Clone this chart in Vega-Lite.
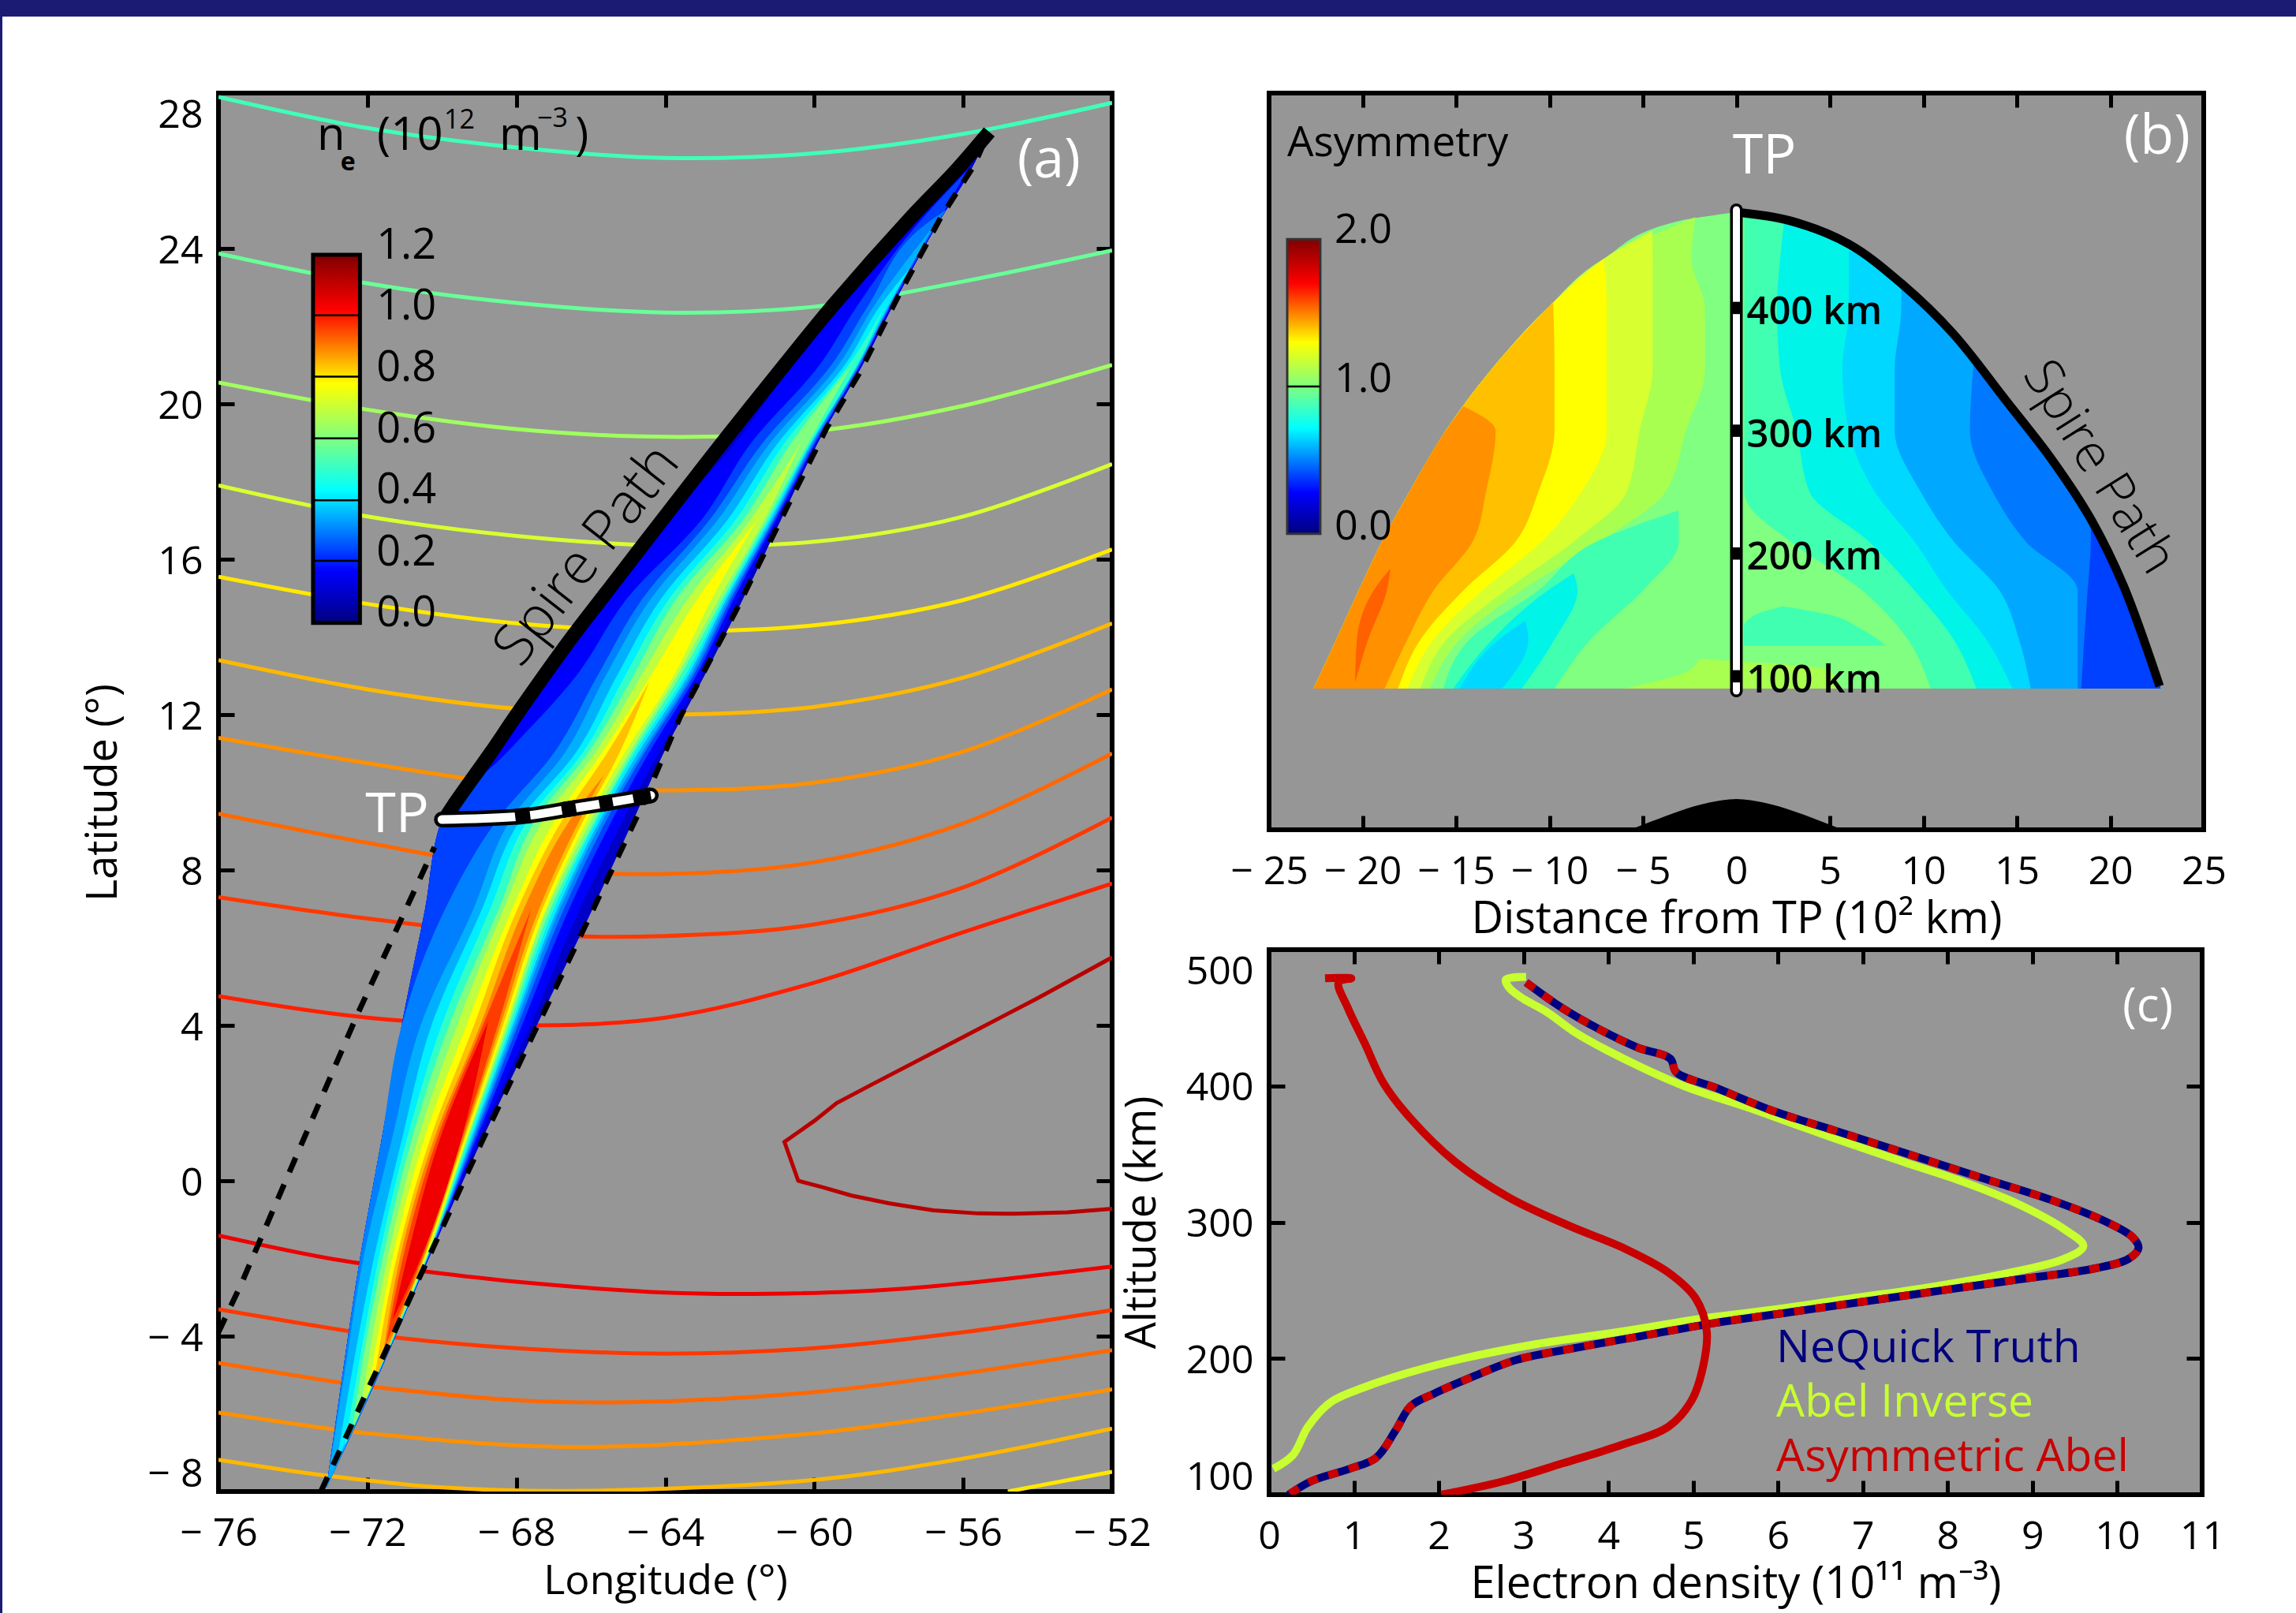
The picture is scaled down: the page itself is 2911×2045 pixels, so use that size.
{"$schema":"https://vega.github.io/schema/vega-lite/v6.json","padding":0,"background":"white",
"config":{"font":"Open Sans","view":{"stroke":null},"axis":{"grid":false,"domain":false,"labelFont":"Open Sans","titleFont":"Open Sans","labelFontSize":50,"titleFontSize":50,"titleFontWeight":"normal","labelColor":"black","titleColor":"black","tickColor":"black","tickWidth":5,"labelOverlap":false,"labelBound":false,"labelFlush":false,"zindex":1},"text":{"font":"Open Sans"}},
"datasets":{
"one":[{"x":0,"y":0}],
"contours":[
{"id":1,"n":"c48","x":-76,"y":27.9},{"id":1,"n":"c48","x":-72,"y":27.1},{"id":1,"n":"c48","x":-68,"y":26.6},{"id":1,"n":"c48","x":-64,"y":26.33},{"id":1,"n":"c48","x":-60,"y":26.45},{"id":1,"n":"c48","x":-56,"y":26.95},{"id":1,"n":"c48","x":-52,"y":27.75},
{"id":2,"n":"c52","x":-76,"y":23.87},{"id":2,"n":"c52","x":-72,"y":23.1},{"id":2,"n":"c52","x":-68,"y":22.6},{"id":2,"n":"c52","x":-64,"y":22.35},{"id":2,"n":"c52","x":-60,"y":22.5},{"id":2,"n":"c52","x":-56,"y":23.15},{"id":2,"n":"c52","x":-52,"y":23.95},
{"id":3,"n":"c58","x":-76,"y":20.55},{"id":3,"n":"c58","x":-72,"y":19.85},{"id":3,"n":"c58","x":-68,"y":19.35},{"id":3,"n":"c58","x":-64,"y":19.15},{"id":3,"n":"c58","x":-60,"y":19.3},{"id":3,"n":"c58","x":-56,"y":19.95},{"id":3,"n":"c58","x":-52,"y":21.0},
{"id":4,"n":"c66","x":-76,"y":17.9},{"id":4,"n":"c66","x":-72,"y":17.1},{"id":4,"n":"c66","x":-68,"y":16.6},{"id":4,"n":"c66","x":-64,"y":16.35},{"id":4,"n":"c66","x":-60,"y":16.45},{"id":4,"n":"c66","x":-56,"y":17.1},{"id":4,"n":"c66","x":-52,"y":18.45},
{"id":5,"n":"c72","x":-76,"y":15.55},{"id":5,"n":"c72","x":-72,"y":14.85},{"id":5,"n":"c72","x":-68,"y":14.35},{"id":5,"n":"c72","x":-64,"y":14.15},{"id":5,"n":"c72","x":-60,"y":14.3},{"id":5,"n":"c72","x":-56,"y":14.95},{"id":5,"n":"c72","x":-52,"y":16.25},
{"id":6,"n":"c78","x":-76,"y":13.4},{"id":6,"n":"c78","x":-72,"y":12.65},{"id":6,"n":"c78","x":-68,"y":12.15},{"id":6,"n":"c78","x":-64,"y":12.0},{"id":6,"n":"c78","x":-60,"y":12.2},{"id":6,"n":"c78","x":-56,"y":12.95},{"id":6,"n":"c78","x":-52,"y":14.35},
{"id":7,"n":"c83","x":-76,"y":11.4},{"id":7,"n":"c83","x":-72,"y":10.75},{"id":7,"n":"c83","x":-68,"y":10.2},{"id":7,"n":"c83","x":-64,"y":10.05},{"id":7,"n":"c83","x":-60,"y":10.25},{"id":7,"n":"c83","x":-56,"y":11.05},{"id":7,"n":"c83","x":-52,"y":12.65},
{"id":8,"n":"c88","x":-76,"y":9.45},{"id":8,"n":"c88","x":-72,"y":8.7},{"id":8,"n":"c88","x":-68,"y":8.05},{"id":8,"n":"c88","x":-64,"y":7.9},{"id":8,"n":"c88","x":-60,"y":8.2},{"id":8,"n":"c88","x":-56,"y":9.2},{"id":8,"n":"c88","x":-52,"y":11.0},
{"id":9,"n":"c93","x":-76,"y":7.3},{"id":9,"n":"c93","x":-72,"y":6.75},{"id":9,"n":"c93","x":-68,"y":6.35},{"id":9,"n":"c93","x":-64,"y":6.3},{"id":9,"n":"c93","x":-60,"y":6.6},{"id":9,"n":"c93","x":-56,"y":7.55},{"id":9,"n":"c93","x":-52,"y":9.35},
{"id":10,"n":"c98","x":-76,"y":4.75},{"id":10,"n":"c98","x":-72,"y":4.2},{"id":10,"n":"c98","x":-68,"y":4.0},{"id":10,"n":"c98","x":-64,"y":4.2},{"id":10,"n":"c98","x":-60,"y":5.1},{"id":10,"n":"c98","x":-56,"y":6.4},{"id":10,"n":"c98","x":-52,"y":7.65},
{"id":12,"n":"c102","x":-76,"y":-1.41},{"id":12,"n":"c102","x":-72.9,"y":-2.02},{"id":12,"n":"c102","x":-70.5,"y":-2.33},{"id":12,"n":"c102","x":-68,"y":-2.6},{"id":12,"n":"c102","x":-64,"y":-2.88},{"id":12,"n":"c102","x":-61.2,"y":-2.91},{"id":12,"n":"c102","x":-57.5,"y":-2.77},{"id":12,"n":"c102","x":-52,"y":-2.21},
{"id":13,"n":"c93","x":-76,"y":-3.31},{"id":13,"n":"c93","x":-72.5,"y":-3.87},{"id":13,"n":"c93","x":-71.2,"y":-4.04},{"id":13,"n":"c93","x":-68,"y":-4.31},{"id":13,"n":"c93","x":-64,"y":-4.45},{"id":13,"n":"c93","x":-60,"y":-4.31},{"id":13,"n":"c93","x":-56,"y":-3.9},{"id":13,"n":"c93","x":-52,"y":-3.33},
{"id":14,"n":"c88","x":-76,"y":-4.69},{"id":14,"n":"c88","x":-72.7,"y":-5.2},{"id":14,"n":"c88","x":-71.9,"y":-5.3},{"id":14,"n":"c88","x":-68,"y":-5.65},{"id":14,"n":"c88","x":-65,"y":-5.7},{"id":14,"n":"c88","x":-60,"y":-5.44},{"id":14,"n":"c88","x":-56,"y":-4.96},{"id":14,"n":"c88","x":-52,"y":-4.36},
{"id":15,"n":"c83","x":-76,"y":-5.97},{"id":15,"n":"c83","x":-72.9,"y":-6.4},{"id":15,"n":"c83","x":-72,"y":-6.5},{"id":15,"n":"c83","x":-68,"y":-6.81},{"id":15,"n":"c83","x":-65.3,"y":-6.84},{"id":15,"n":"c83","x":-60,"y":-6.5},{"id":15,"n":"c83","x":-56,"y":-5.99},{"id":15,"n":"c83","x":-52,"y":-5.37},
{"id":16,"n":"c78","x":-76,"y":-7.18},{"id":16,"n":"c78","x":-73.1,"y":-7.59},{"id":16,"n":"c78","x":-69.9,"y":-7.9},{"id":16,"n":"c78","x":-66.2,"y":-7.98},{"id":16,"n":"c78","x":-60,"y":-7.7},{"id":16,"n":"c78","x":-56,"y":-7.15},{"id":16,"n":"c78","x":-52,"y":-6.38},
{"id":17,"n":"c72","x":-54.8,"y":-8.0},{"id":17,"n":"c72","x":-52,"y":-7.49}],
"cshape":[{"x":-52,"y":5.75},{"x":-54,"y":4.7},{"x":-56,"y":3.7},{"x":-58.45,"y":2.48},{"x":-59.4,"y":2.0},{"x":-60,"y":1.54},{"x":-60.8,"y":1.0},{"x":-60.43,"y":0},{"x":-59.8,"y":-0.16},{"x":-59,"y":-0.38},{"x":-58,"y":-0.58},{"x":-56.8,"y":-0.76},{"x":-55.6,"y":-0.84},{"x":-54.6,"y":-0.85},{"x":-53.2,"y":-0.81},{"x":-52,"y":-0.72}],
"band":[
{"n":"0.05","y":27,"x":-55.3,"x2":-55.3},{"n":"0.05","y":26,"x":-56.2,"x2":-55.8},{"n":"0.05","y":24.6,"x":-57.55,"x2":-56.7},{"n":"0.05","y":22.5,"x":-59.5,"x2":-57.9},{"n":"0.05","y":21,"x":-60.8,"x2":-58.7},{"n":"0.05","y":19,"x":-62.45,"x2":-59.9},{"n":"0.05","y":17,"x":-64.1,"x2":-60.9},{"n":"0.05","y":15,"x":-65.7,"x2":-61.9},{"n":"0.05","y":13,"x":-67.2,"x2":-62.95},{"n":"0.05","y":11,"x":-68.68,"x2":-64.05},{"n":"0.05","y":9.3,"x":-70,"x2":-64.85},{"n":"0.05","y":7,"x":-70.45,"x2":-65.95},{"n":"0.05","y":4,"x":-71.08,"x2":-67.45},{"n":"0.05","y":1,"x":-71.63,"x2":-68.95},{"n":"0.05","y":-2,"x":-72.2,"x2":-70.35},{"n":"0.05","y":-5,"x":-72.67,"x2":-71.7},{"n":"0.05","y":-7.9,"x":-73.1,"x2":-73.1},
{"n":"0.10","y":27,"x":-55.3,"x2":-55.3},{"n":"0.10","y":26,"x":-56.16,"x2":-55.84},{"n":"0.10","y":24.6,"x":-57.5,"x2":-56.72},{"n":"0.10","y":22.5,"x":-59.34,"x2":-57.93},{"n":"0.10","y":21,"x":-60.59,"x2":-58.74},{"n":"0.10","y":19,"x":-62.12,"x2":-59.93},{"n":"0.10","y":17,"x":-63.94,"x2":-60.98},{"n":"0.10","y":15,"x":-65.59,"x2":-62.03},{"n":"0.10","y":13,"x":-67.07,"x2":-63.04},{"n":"0.10","y":11,"x":-68.58,"x2":-64.19},{"n":"0.10","y":9.3,"x":-70,"x2":-65.13},{"n":"0.10","y":7,"x":-70.45,"x2":-66.29},{"n":"0.10","y":4,"x":-71.08,"x2":-67.63},{"n":"0.10","y":1,"x":-71.63,"x2":-69.04},{"n":"0.10","y":-2,"x":-72.2,"x2":-70.36},{"n":"0.10","y":-5,"x":-72.67,"x2":-71.7},{"n":"0.10","y":-7.9,"x":-73.1,"x2":-73.1},
{"n":"0.15","y":26,"x":-55.9,"x2":-55.9},{"n":"0.15","y":24.6,"x":-57.25,"x2":-56.72},{"n":"0.15","y":22.5,"x":-58.86,"x2":-57.96},{"n":"0.15","y":21,"x":-59.86,"x2":-58.76},{"n":"0.15","y":19,"x":-61.69,"x2":-59.96},{"n":"0.15","y":17,"x":-63.04,"x2":-61.04},{"n":"0.15","y":15,"x":-65.02,"x2":-62.15},{"n":"0.15","y":13,"x":-66.39,"x2":-63.17},{"n":"0.15","y":11,"x":-68.28,"x2":-64.45},{"n":"0.15","y":9.3,"x":-70,"x2":-65.42},{"n":"0.15","y":7,"x":-70.45,"x2":-66.58},{"n":"0.15","y":4,"x":-71.08,"x2":-67.85},{"n":"0.15","y":1,"x":-71.63,"x2":-69.11},{"n":"0.15","y":-2,"x":-72.2,"x2":-70.37},{"n":"0.15","y":-5,"x":-72.67,"x2":-71.7},{"n":"0.15","y":-7.9,"x":-73.1,"x2":-73.1},
{"n":"0.20","y":25,"x":-56.45,"x2":-56.45},{"n":"0.20","y":24.6,"x":-57.04,"x2":-56.73},{"n":"0.20","y":22.5,"x":-58.57,"x2":-57.98},{"n":"0.20","y":21,"x":-59.54,"x2":-58.78},{"n":"0.20","y":19,"x":-61.38,"x2":-60.0},{"n":"0.20","y":17,"x":-62.82,"x2":-61.09},{"n":"0.20","y":15,"x":-64.6,"x2":-62.22},{"n":"0.20","y":13,"x":-65.82,"x2":-63.25},{"n":"0.20","y":11,"x":-67.0,"x2":-64.57},{"n":"0.20","y":9.3,"x":-68.51,"x2":-65.57},{"n":"0.20","y":7,"x":-69.91,"x2":-66.72},{"n":"0.20","y":4,"x":-71.08,"x2":-67.96},{"n":"0.20","y":1,"x":-71.63,"x2":-69.16},{"n":"0.20","y":-2,"x":-72.2,"x2":-70.38},{"n":"0.20","y":-5,"x":-72.67,"x2":-71.71},{"n":"0.20","y":-7.9,"x":-73.1,"x2":-73.1},
{"n":"0.30","y":24.6,"x":-56.78,"x2":-56.78},{"n":"0.30","y":22.5,"x":-58.41,"x2":-58.0},{"n":"0.30","y":21,"x":-59.35,"x2":-58.81},{"n":"0.30","y":19,"x":-61.18,"x2":-60.04},{"n":"0.30","y":17,"x":-62.6,"x2":-61.12},{"n":"0.30","y":15,"x":-64.37,"x2":-62.28},{"n":"0.30","y":13,"x":-65.6,"x2":-63.32},{"n":"0.30","y":11,"x":-66.71,"x2":-64.64},{"n":"0.30","y":9.3,"x":-68.15,"x2":-65.67},{"n":"0.30","y":7,"x":-69.15,"x2":-66.83},{"n":"0.30","y":4,"x":-70.57,"x2":-68.03},{"n":"0.30","y":1,"x":-71.36,"x2":-69.2},{"n":"0.30","y":-2,"x":-72.11,"x2":-70.39},{"n":"0.30","y":-5,"x":-72.62,"x2":-71.72},{"n":"0.30","y":-7.9,"x":-73.1,"x2":-73.1},
{"n":"0.40","y":23.5,"x":-57.43,"x2":-57.43},{"n":"0.40","y":22.5,"x":-58.25,"x2":-58.03},{"n":"0.40","y":21,"x":-59.18,"x2":-58.83},{"n":"0.40","y":19,"x":-60.97,"x2":-60.07},{"n":"0.40","y":17,"x":-62.34,"x2":-61.17},{"n":"0.40","y":15,"x":-64.1,"x2":-62.34},{"n":"0.40","y":13,"x":-65.3,"x2":-63.39},{"n":"0.40","y":11,"x":-66.42,"x2":-64.74},{"n":"0.40","y":9.3,"x":-67.89,"x2":-65.75},{"n":"0.40","y":7,"x":-68.92,"x2":-66.9},{"n":"0.40","y":4,"x":-70.28,"x2":-68.09},{"n":"0.40","y":1,"x":-71.09,"x2":-69.24},{"n":"0.40","y":-2,"x":-71.83,"x2":-70.4},{"n":"0.40","y":-5,"x":-72.43,"x2":-71.73},{"n":"0.40","y":-7.2,"x":-72.82,"x2":-72.82},
{"n":"0.45","y":22.5,"x":-58.11,"x2":-58.11},{"n":"0.45","y":21,"x":-59.08,"x2":-58.85},{"n":"0.45","y":19,"x":-60.79,"x2":-60.1},{"n":"0.45","y":17,"x":-62.12,"x2":-61.22},{"n":"0.45","y":15,"x":-63.88,"x2":-62.39},{"n":"0.45","y":13,"x":-65.08,"x2":-63.47},{"n":"0.45","y":11,"x":-66.23,"x2":-64.83},{"n":"0.45","y":9.3,"x":-67.68,"x2":-65.83},{"n":"0.45","y":7,"x":-68.7,"x2":-66.99},{"n":"0.45","y":4,"x":-70.01,"x2":-68.14},{"n":"0.45","y":1,"x":-70.96,"x2":-69.28},{"n":"0.45","y":-2,"x":-71.7,"x2":-70.41},{"n":"0.45","y":-5,"x":-72.28,"x2":-71.74},{"n":"0.45","y":-6.8,"x":-72.6,"x2":-72.6},
{"n":"0.50","y":21,"x":-58.99,"x2":-58.99},{"n":"0.50","y":19,"x":-60.61,"x2":-60.15},{"n":"0.50","y":17,"x":-61.92,"x2":-61.28},{"n":"0.50","y":15,"x":-63.69,"x2":-62.45},{"n":"0.50","y":13,"x":-64.86,"x2":-63.6},{"n":"0.50","y":11,"x":-66.09,"x2":-64.9},{"n":"0.50","y":9.3,"x":-67.48,"x2":-65.88},{"n":"0.50","y":7,"x":-68.47,"x2":-67.08},{"n":"0.50","y":4,"x":-69.81,"x2":-68.2},{"n":"0.50","y":1,"x":-70.83,"x2":-69.33},{"n":"0.50","y":-2,"x":-71.59,"x2":-70.41},{"n":"0.50","y":-5,"x":-72.19,"x2":-71.76},{"n":"0.50","y":-6.4,"x":-72.4,"x2":-72.4},
{"n":"0.60","y":19,"x":-60.36,"x2":-60.36},{"n":"0.60","y":17,"x":-61.73,"x2":-61.35},{"n":"0.60","y":15,"x":-63.38,"x2":-62.55},{"n":"0.60","y":13,"x":-64.65,"x2":-63.69},{"n":"0.60","y":11,"x":-65.9,"x2":-64.98},{"n":"0.60","y":9.3,"x":-67.27,"x2":-65.98},{"n":"0.60","y":7,"x":-68.34,"x2":-67.17},{"n":"0.60","y":4,"x":-69.59,"x2":-68.25},{"n":"0.60","y":1,"x":-70.67,"x2":-69.35},{"n":"0.60","y":-2,"x":-71.46,"x2":-70.43},{"n":"0.60","y":-5,"x":-72.04,"x2":-71.78},{"n":"0.60","y":-6,"x":-72.2,"x2":-72.2},
{"n":"0.70","y":17,"x":-61.54,"x2":-61.54},{"n":"0.70","y":15,"x":-63.12,"x2":-62.74},{"n":"0.70","y":13,"x":-64.39,"x2":-63.78},{"n":"0.70","y":11,"x":-65.71,"x2":-65.1},{"n":"0.70","y":9.3,"x":-66.96,"x2":-66.09},{"n":"0.70","y":7,"x":-68.11,"x2":-67.21},{"n":"0.70","y":4,"x":-69.34,"x2":-68.3},{"n":"0.70","y":1,"x":-70.5,"x2":-69.38},{"n":"0.70","y":-2,"x":-71.33,"x2":-70.45},{"n":"0.70","y":-5,"x":-71.91,"x2":-71.8},{"n":"0.70","y":-5.6,"x":-72.03,"x2":-72.03},
{"n":"0.75","y":12.85,"x":-64.43,"x2":-64.43},{"n":"0.75","y":11,"x":-65.57,"x2":-65.24},{"n":"0.75","y":9.3,"x":-66.76,"x2":-66.19},{"n":"0.75","y":7,"x":-67.97,"x2":-67.3},{"n":"0.75","y":4,"x":-69.14,"x2":-68.36},{"n":"0.75","y":1,"x":-70.34,"x2":-69.42},{"n":"0.75","y":-2,"x":-71.22,"x2":-70.48},{"n":"0.75","y":-5.2,"x":-71.83,"x2":-71.83},
{"n":"0.85","y":10.45,"x":-65.64,"x2":-65.64},{"n":"0.85","y":9.3,"x":-66.55,"x2":-66.29},{"n":"0.85","y":7,"x":-67.8,"x2":-67.39},{"n":"0.85","y":4,"x":-68.97,"x2":-68.43},{"n":"0.85","y":1,"x":-70.24,"x2":-69.45},{"n":"0.85","y":-2,"x":-71.13,"x2":-70.5},{"n":"0.85","y":-4.6,"x":-71.6,"x2":-71.6},
{"n":"0.95","y":7,"x":-67.6,"x2":-67.6},{"n":"0.95","y":4,"x":-68.9,"x2":-68.5},{"n":"0.95","y":1,"x":-70.16,"x2":-69.49},{"n":"0.95","y":-2,"x":-71.05,"x2":-70.54},{"n":"0.95","y":-4.2,"x":-71.5,"x2":-71.5},
{"n":"1.05","y":4.1,"x":-68.76,"x2":-68.76},{"n":"1.05","y":1,"x":-70.08,"x2":-69.5},{"n":"1.05","y":-2,"x":-70.94,"x2":-70.57},{"n":"1.05","y":-3.6,"x":-71.33,"x2":-71.33}],
"dashL":[{"x":-70.2,"y":8.59},{"x":-72.27,"y":4.28},{"x":-75.4,"y":-2.68},{"x":-76,"y":-3.9}],
"dashR":[{"x":-55.3,"y":27.03},{"x":-55.7,"y":26.15},{"x":-56.6,"y":24.8},{"x":-57.75,"y":22.76},{"x":-58.8,"y":20.77},{"x":-59.66,"y":19.39},{"x":-60.72,"y":17.36},{"x":-62.12,"y":14.64},{"x":-63.6,"y":11.94},{"x":-64.6,"y":9.7},{"x":-66.1,"y":6.66},{"x":-68.92,"y":1.02},{"x":-70.77,"y":-2.84},{"x":-73.25,"y":-8}],
"spire":[{"x":-70,"y":9.2},{"x":-69.69,"y":9.66},{"x":-68.7,"y":11},{"x":-67.99,"y":12},{"x":-66.57,"y":13.91},{"x":-65.7,"y":15},{"x":-63.75,"y":17.42},{"x":-62.31,"y":19.19},{"x":-60.8,"y":21},{"x":-59.47,"y":22.56},{"x":-57.4,"y":24.8},{"x":-56.2,"y":26},{"x":-55.3,"y":27}],
"tpbar":[{"x":-70,"y":9.3},{"x":-68,"y":9.37},{"x":-66.4,"y":9.6},{"x":-64.86,"y":9.84},{"x":-64.39,"y":9.92}],
"tpdash":[{"g":1,"x":-68.03,"y":9.37},{"g":1,"x":-67.63,"y":9.42},{"g":2,"x":-66.78,"y":9.54},{"g":2,"x":-66.4,"y":9.6},{"g":3,"x":-65.77,"y":9.69},{"g":3,"x":-65.41,"y":9.75},{"g":4,"x":-64.86,"y":9.84},{"g":4,"x":-64.39,"y":9.92}],
"cbA":[{"x":-73.46,"x2":-72.2,"y":14.36,"y2":23.84}],
"cbAticks":[{"x":-73.46,"x2":-72.2,"y":22.28},{"x":-73.46,"x2":-72.2,"y":20.7},{"x":-73.46,"x2":-72.2,"y":19.11},{"x":-73.46,"x2":-72.2,"y":17.52},{"x":-73.46,"x2":-72.2,"y":15.96}],
"txtA":[{"x":-71.76,"y":24.07,"t":"1.2"},{"x":-71.76,"y":22.5,"t":"1.0"},{"x":-71.76,"y":20.92,"t":"0.8"},{"x":-71.76,"y":19.32,"t":"0.6"},{"x":-71.76,"y":17.77,"t":"0.4"},{"x":-71.76,"y":16.17,"t":"0.2"},{"x":-71.76,"y":14.6,"t":"0.0"}],
"txtAn":[{"x":-73.35,"y":26.89,"t":"n"},{"x":-71.74,"y":26.89,"t":"(10"},{"x":-68.46,"y":26.89,"t":"m"},{"x":-66.42,"y":26.89,"t":")"}],
"txtAsmall":[{"x":-69.94,"y":27.28,"t":"12"},{"x":-67.44,"y":27.32,"t":"−3"}],
"txtAe":[{"x":-72.72,"y":26.22,"t":"e"}],
"spireTxt":[{"x":-66.1,"y":16.1,"t":"Spire Path"}],
"tpA":[{"x":-71.2,"y":9.4,"t":"TP"},{"x":-53.7,"y":26.25,"t":"(a)"}],
"dome":[
{"g":1,"r":"1.00","y":90,"x":-22.62,"x2":22.7},{"g":1,"r":"1.00","y":130,"x":-21.4,"x2":21.75},{"g":1,"r":"1.00","y":170,"x":-20.2,"x2":20.8},{"g":1,"r":"1.00","y":210,"x":-18.95,"x2":19.55},{"g":1,"r":"1.00","y":250,"x":-17.5,"x2":17.9},{"g":1,"r":"1.00","y":300,"x":-15.55,"x2":15.7},{"g":1,"r":"1.00","y":350,"x":-13.1,"x2":13.1},{"g":1,"r":"1.00","y":400,"x":-10.1,"x2":10.15},{"g":1,"r":"1.00","y":440,"x":-7.1,"x2":7.1},{"g":1,"r":"1.00","y":470,"x":-3.3,"x2":3.05},{"g":1,"r":"1.00","y":478,"x":0,"x2":0},
{"g":2,"r":"1.08","y":90,"x":-22.62,"x2":-16.4},{"g":2,"r":"1.08","y":130,"x":-21.4,"x2":-14.8},{"g":2,"r":"1.08","y":170,"x":-20.2,"x2":-11.5},{"g":2,"r":"1.08","y":210,"x":-18.95,"x2":-7.3},{"g":2,"r":"1.08","y":250,"x":-17.5,"x2":-3.8},{"g":2,"r":"1.08","y":300,"x":-15.55,"x2":-2.7},{"g":2,"r":"1.08","y":350,"x":-13.1,"x2":-1.68},{"g":2,"r":"1.08","y":400,"x":-10.1,"x2":-1.68},{"g":2,"r":"1.08","y":440,"x":-7.1,"x2":-2.4},{"g":2,"r":"1.08","y":474,"x":-2.2,"x2":-2.2},
{"g":3,"r":"1.16","y":90,"x":-22.62,"x2":-16.9},{"g":3,"r":"1.16","y":130,"x":-21.4,"x2":-15.5},{"g":3,"r":"1.16","y":170,"x":-20.2,"x2":-12.35},{"g":3,"r":"1.16","y":210,"x":-18.95,"x2":-8.68},{"g":3,"r":"1.16","y":250,"x":-17.5,"x2":-5.88},{"g":3,"r":"1.16","y":300,"x":-15.55,"x2":-5.18},{"g":3,"r":"1.16","y":350,"x":-13.1,"x2":-4.48},{"g":3,"r":"1.16","y":400,"x":-10.1,"x2":-4.48},{"g":3,"r":"1.16","y":440,"x":-7.1,"x2":-4.48},{"g":3,"r":"1.16","y":463,"x":-4.5,"x2":-4.5},
{"g":4,"r":"1.25","y":90,"x":-22.62,"x2":-17.6},{"g":4,"r":"1.25","y":130,"x":-21.4,"x2":-16.2},{"g":4,"r":"1.25","y":170,"x":-20.2,"x2":-13.6},{"g":4,"r":"1.25","y":210,"x":-18.95,"x2":-10.4},{"g":4,"r":"1.25","y":250,"x":-17.5,"x2":-8.3},{"g":4,"r":"1.25","y":300,"x":-15.55,"x2":-6.93},{"g":4,"r":"1.25","y":350,"x":-13.1,"x2":-6.93},{"g":4,"r":"1.25","y":400,"x":-10.1,"x2":-6.93},{"g":4,"r":"1.25","y":440,"x":-7.1,"x2":-7.1},
{"g":5,"r":"1.35","y":90,"x":-22.62,"x2":-18.1},{"g":5,"r":"1.35","y":130,"x":-21.4,"x2":-16.9},{"g":5,"r":"1.35","y":170,"x":-20.2,"x2":-14.6},{"g":5,"r":"1.35","y":210,"x":-18.95,"x2":-11.8},{"g":5,"r":"1.35","y":250,"x":-17.5,"x2":-10.6},{"g":5,"r":"1.35","y":300,"x":-15.55,"x2":-9.73},{"g":5,"r":"1.35","y":350,"x":-13.1,"x2":-9.73},{"g":5,"r":"1.35","y":405,"x":-9.8,"x2":-9.8},
{"g":6,"r":"1.45","y":90,"x":-22.62,"x2":-18.82},{"g":6,"r":"1.45","y":130,"x":-21.4,"x2":-17.6},{"g":6,"r":"1.45","y":170,"x":-20.2,"x2":-16.2},{"g":6,"r":"1.45","y":210,"x":-18.95,"x2":-14.1},{"g":6,"r":"1.45","y":250,"x":-17.5,"x2":-13.4},{"g":6,"r":"1.45","y":300,"x":-15.55,"x2":-12.88},{"g":6,"r":"1.45","y":320,"x":-14.6,"x2":-14.6},
{"g":7,"r":"1.55","y":95,"x":-20.4,"x2":-20.4},{"g":7,"r":"1.55","y":130,"x":-20.3,"x2":-19.7},{"g":7,"r":"1.55","y":170,"x":-19.4,"x2":-18.7},{"g":7,"r":"1.55","y":188,"x":-18.5,"x2":-18.5},
{"g":8,"r":"0.90","y":90,"x":-15.68,"x2":-9.73},{"g":8,"r":"0.90","y":130,"x":-14.28,"x2":-7.8},{"g":8,"r":"0.90","y":170,"x":-10.6,"x2":-5},{"g":8,"r":"0.90","y":210,"x":-7.45,"x2":-3.08},{"g":8,"r":"0.90","y":235,"x":-3.1,"x2":-3.1},
{"g":9,"r":"0.80","y":90,"x":-15.15,"x2":-11.48},{"g":9,"r":"0.80","y":130,"x":-13.05,"x2":-9.73},{"g":9,"r":"0.80","y":170,"x":-10.08,"x2":-8.5},{"g":9,"r":"0.80","y":184,"x":-8.7,"x2":-8.7},
{"g":10,"r":"0.70","y":90,"x":-14.8,"x2":-12.53},{"g":10,"r":"0.70","y":130,"x":-12.7,"x2":-11.13},{"g":10,"r":"0.70","y":145,"x":-11.3,"x2":-11.3},
{"g":11,"r":"1.08","y":90,"x":-6.05,"x2":5.5},{"g":11,"r":"1.08","y":105,"x":-2.5,"x2":5},{"g":11,"r":"1.08","y":114,"x":-2,"x2":-2},
{"g":12,"r":"0.90","y":90,"x":10.39,"x2":22.7},{"g":12,"r":"0.90","y":130,"x":9.17,"x2":21.75},{"g":12,"r":"0.90","y":170,"x":6.72,"x2":20.8},{"g":12,"r":"0.90","y":210,"x":2.87,"x2":19.55},{"g":12,"r":"0.90","y":241,"x":0.6,"x2":18.3},{"g":12,"r":"0.90","y":250,"x":0.42,"x2":17.9},{"g":12,"r":"0.90","y":300,"x":0.42,"x2":15.7},{"g":12,"r":"0.90","y":350,"x":0.42,"x2":13.1},{"g":12,"r":"0.90","y":400,"x":0.42,"x2":10.15},{"g":12,"r":"0.90","y":440,"x":0.42,"x2":7.1},{"g":12,"r":"0.90","y":470,"x":0.42,"x2":3.05},{"g":12,"r":"0.90","y":477,"x":0.42,"x2":0.5},
{"g":13,"r":"0.80","y":90,"x":12.84,"x2":22.7},{"g":13,"r":"0.80","y":130,"x":11.62,"x2":21.75},{"g":13,"r":"0.80","y":170,"x":9.52,"x2":20.8},{"g":13,"r":"0.80","y":210,"x":7.07,"x2":19.55},{"g":13,"r":"0.80","y":250,"x":3.92,"x2":17.9},{"g":13,"r":"0.80","y":300,"x":3.22,"x2":15.7},{"g":13,"r":"0.80","y":350,"x":2.34,"x2":13.1},{"g":13,"r":"0.80","y":400,"x":2.17,"x2":10.15},{"g":13,"r":"0.80","y":440,"x":2.34,"x2":7.1},{"g":13,"r":"0.80","y":470,"x":2.55,"x2":3.05},
{"g":14,"r":"0.70","y":90,"x":14.77,"x2":22.7},{"g":14,"r":"0.70","y":130,"x":13.37,"x2":21.75},{"g":14,"r":"0.70","y":170,"x":11.27,"x2":20.8},{"g":14,"r":"0.70","y":210,"x":9.52,"x2":19.55},{"g":14,"r":"0.70","y":250,"x":7.42,"x2":17.9},{"g":14,"r":"0.70","y":300,"x":6.02,"x2":15.7},{"g":14,"r":"0.70","y":350,"x":5.67,"x2":13.1},{"g":14,"r":"0.70","y":400,"x":6.02,"x2":10.15},{"g":14,"r":"0.70","y":446,"x":6.02,"x2":6.4},
{"g":15,"r":"0.60","y":90,"x":15.75,"x2":22.7},{"g":15,"r":"0.60","y":130,"x":15.12,"x2":21.75},{"g":15,"r":"0.60","y":170,"x":14.07,"x2":20.8},{"g":15,"r":"0.60","y":210,"x":11.62,"x2":19.55},{"g":15,"r":"0.60","y":250,"x":9.87,"x2":17.9},{"g":15,"r":"0.60","y":300,"x":8.47,"x2":15.7},{"g":15,"r":"0.60","y":350,"x":8.47,"x2":13.1},{"g":15,"r":"0.60","y":400,"x":8.82,"x2":10.15},{"g":15,"r":"0.60","y":417,"x":8.82,"x2":9.0},
{"g":16,"r":"0.50","y":90,"x":18.26,"x2":22.7},{"g":16,"r":"0.50","y":130,"x":18.26,"x2":21.75},{"g":16,"r":"0.50","y":170,"x":18.26,"x2":20.8},{"g":16,"r":"0.50","y":210,"x":15.47,"x2":19.55},{"g":16,"r":"0.50","y":250,"x":13.72,"x2":17.9},{"g":16,"r":"0.50","y":300,"x":12.49,"x2":15.7},{"g":16,"r":"0.50","y":355,"x":12.7,"x2":12.7},
{"g":17,"r":"0.40","y":90,"x":18.44,"x2":22.7},{"g":17,"r":"0.40","y":130,"x":18.61,"x2":21.75},{"g":17,"r":"0.40","y":170,"x":18.79,"x2":20.8},{"g":17,"r":"0.40","y":210,"x":18.96,"x2":19.55},{"g":17,"r":"0.40","y":227,"x":18.96,"x2":19},
{"g":18,"r":"0.90","y":125,"x":0.4,"x2":8},{"g":18,"r":"0.90","y":140,"x":0.4,"x2":6.5},{"g":18,"r":"0.90","y":150,"x":1,"x2":5},{"g":18,"r":"0.90","y":157,"x":2.5,"x2":2.5}],
"pathB":[{"x":0,"y":478},{"x":2.87,"y":471},{"x":6.02,"y":452},{"x":8.82,"y":420},{"x":11.6,"y":379},{"x":14.4,"y":325},{"x":16.9,"y":276},{"x":19,"y":227},{"x":20.7,"y":174},{"x":22.64,"y":92}],
"earth":[{"x":-5.7,"y":-25},{"x":-4.5,"y":-18},{"x":-3.1,"y":-10},{"x":-1.5,"y":-3},{"x":0,"y":0},{"x":1.5,"y":-3},{"x":3.1,"y":-10},{"x":4.5,"y":-18},{"x":5.7,"y":-25}],
"barB":[{"x":0,"y":480},{"x":0,"y":88}],
"barBmarks":[{"g":1,"x":0,"y":405},{"g":1,"x":0,"y":395},{"g":2,"x":0,"y":305},{"g":2,"x":0,"y":295},{"g":3,"x":0,"y":205},{"g":3,"x":0,"y":195},{"g":4,"x":0,"y":105},{"g":4,"x":0,"y":95}],
"cbB":[{"x":-24.03,"x2":-22.26,"y":216,"y2":456}],
"cbBtick":[{"x":-24.03,"x2":-22.26,"y":336}],
"txtB":[{"x":-21.5,"y":463,"t":"2.0"},{"x":-21.5,"y":342,"t":"1.0"},{"x":-21.5,"y":222,"t":"0.0"}],
"asymTxt":[{"x":-24.03,"y":534,"t":"Asymmetry"}],
"kmB":[{"x":0.55,"y":396.5,"t":"400 km"},{"x":0.55,"y":296.5,"t":"300 km"},{"x":0.55,"y":196.5,"t":"200 km"},{"x":0.55,"y":96.5,"t":"100 km"}],
"whiteB":[{"x":1.5,"y":523,"t":"TP"},{"x":22.5,"y":539,"t":"(b)"}],
"spireB":[{"x":19.4,"y":270,"t":"Spire Path"}],
"truth":[{"x":3.03,"y":476},{"x":3.46,"y":457},{"x":3.91,"y":441},{"x":4.35,"y":428},{"x":4.73,"y":420},{"x":4.8,"y":410},{"x":5.25,"y":399},{"x":5.97,"y":381},{"x":6.68,"y":367},{"x":7.58,"y":349},{"x":8.48,"y":331},{"x":9.28,"y":315},{"x":9.91,"y":299},{"x":10.18,"y":289},{"x":10.25,"y":281},{"x":10.13,"y":273},{"x":9.73,"y":266},{"x":8.84,"y":258},{"x":7.94,"y":250},{"x":7.04,"y":242},{"x":6.15,"y":234},{"x":5.25,"y":226},{"x":4.35,"y":216},{"x":3.64,"y":208},{"x":2.92,"y":199},{"x":2.38,"y":186},{"x":1.94,"y":174},{"x":1.67,"y":165},{"x":1.49,"y":147},{"x":1.26,"y":127},{"x":0.95,"y":119},{"x":0.5,"y":110},{"x":0.23,"y":100}],
"abel":[{"x":3.03,"y":480},{"x":2.79,"y":478},{"x":2.83,"y":472},{"x":2.97,"y":465},{"x":3.28,"y":454},{"x":3.64,"y":438},{"x":4.18,"y":420},{"x":4.89,"y":400},{"x":5.7,"y":383},{"x":6.6,"y":363},{"x":7.49,"y":344},{"x":8.21,"y":329},{"x":8.84,"y":313},{"x":9.37,"y":295},{"x":9.6,"y":282.5},{"x":9.37,"y":273},{"x":8.66,"y":262},{"x":7.76,"y":252},{"x":6.86,"y":244},{"x":5.97,"y":236},{"x":5.07,"y":229},{"x":4.18,"y":220},{"x":3.1,"y":210},{"x":2.29,"y":200},{"x":1.67,"y":190},{"x":1.13,"y":179},{"x":0.73,"y":168},{"x":0.46,"y":150},{"x":0.28,"y":129},{"x":0.05,"y":119}],
"asym":[{"x":0.66,"y":479},{"x":0.97,"y":479},{"x":0.82,"y":476},{"x":0.93,"y":457},{"x":1.13,"y":431},{"x":1.35,"y":402},{"x":1.67,"y":376},{"x":2.2,"y":344},{"x":2.83,"y":318},{"x":3.55,"y":297},{"x":4.18,"y":281},{"x":4.71,"y":263},{"x":5.03,"y":244},{"x":5.16,"y":220},{"x":5.12,"y":195},{"x":4.98,"y":169},{"x":4.71,"y":150},{"x":4.18,"y":137},{"x":3.46,"y":123},{"x":2.77,"y":110},{"x":2.03,"y":100}],
"legTruth":[{"x":5.98,"y":207,"t":"NeQuick Truth"}],
"legAbel":[{"x":5.98,"y":167,"t":"Abel Inverse"}],
"legAsym":[{"x":5.98,"y":127,"t":"Asymmetric Abel"}],
"cLabel":[{"x":10.36,"y":458,"t":"(c)"}]
},
"vconcat":[
{"width":2911,"height":21,"view":{"fill":"#1B1B73","stroke":null},"data":{"name":"one"},"mark":{"type":"rect","opacity":0},"encoding":{}},
{"hconcat":[
{"width":3,"height":2024,"view":{"fill":"#1B1B73","stroke":null},"data":{"name":"one"},"mark":{"type":"rect","opacity":0},"encoding":{}},
{"vconcat":[
{"width":1,"height":91,"data":{"name":"one"},"mark":{"type":"rect","opacity":0},"encoding":{}},
{"resolve":{"scale":{"color":"independent"}},"hconcat":[
{"width":1133,"height":1773,"view":{"fill":"#969696","stroke":"black","strokeWidth":6},
"resolve":{"axis":{"x":"independent","y":"independent"}},
"encoding":{"x":{"field":"x","type":"quantitative","scale":{"domain":[-76,-52],"nice":false,"zero":false},"axis":null},"y":{"field":"y","type":"quantitative","scale":{"domain":[-8,28],"nice":false,"zero":false},"axis":null}},
"layer":[
{"data":{"name":"contours"},"mark":{"type":"line","strokeWidth":5,"interpolate":"catmull-rom","clip":true},"encoding":{"detail":{"field":"id"},"color":{"field":"n","type":"nominal","legend":null,"scale":{"domain":["c48","c52","c58","c66","c72","c78","c83","c88","c93","c98","c102","0.05","0.10","0.15","0.20","0.30","0.40","0.45","0.50","0.60","0.70","0.75","0.85","0.95","1.05"],"range":["#40FFB8","#68FF98","#A0FF60","#D8FF30","#FFE800","#FFB800","#FF9000","#FF6800","#FF3800","#FF2000","#EE0000","#0000C8","#0000FF","#0040FF","#0080FF","#00B0FF","#00EEFF","#30FFC8","#80FF80","#C0FF40","#FFFF00","#FFC000","#FF8000","#FF3C00","#F00000"]}}}},
{"data":{"name":"cshape"},"mark":{"type":"line","strokeWidth":5,"color":"#B80000","clip":true},"encoding":{"order":{"value":null}}},
{"data":{"name":"band"},"mark":{"type":"area","orient":"horizontal","interpolate":"monotone","clip":true},"encoding":{"x2":{"field":"x2"},"color":{"field":"n","type":"nominal","legend":null,"scale":{"domain":["c48","c52","c58","c66","c72","c78","c83","c88","c93","c98","c102","0.05","0.10","0.15","0.20","0.30","0.40","0.45","0.50","0.60","0.70","0.75","0.85","0.95","1.05"],"range":["#40FFB8","#68FF98","#A0FF60","#D8FF30","#FFE800","#FFB800","#FF9000","#FF6800","#FF3800","#FF2000","#EE0000","#0000C8","#0000FF","#0040FF","#0080FF","#00B0FF","#00EEFF","#30FFC8","#80FF80","#C0FF40","#FFFF00","#FFC000","#FF8000","#FF3C00","#F00000"]}}}},
{"data":{"name":"dashL"},"mark":{"type":"line","color":"black","strokeWidth":7,"strokeDash":[20,17],"clip":true},"encoding":{}},
{"data":{"name":"dashR"},"mark":{"type":"line","color":"black","strokeWidth":7,"strokeDash":[20,17],"clip":true},"encoding":{}},
{"data":{"name":"spire"},"mark":{"type":"line","color":"black","strokeWidth":18,"interpolate":"catmull-rom"},"encoding":{}},
{"data":{"name":"tpbar"},"mark":{"type":"line","color":"black","strokeWidth":20,"strokeCap":"round","interpolate":"monotone"},"encoding":{}},
{"data":{"name":"tpbar"},"mark":{"type":"line","color":"white","strokeWidth":11,"strokeCap":"round","interpolate":"monotone"},"encoding":{}},
{"data":{"name":"tpdash"},"mark":{"type":"line","color":"black","strokeWidth":20},"encoding":{"detail":{"field":"g"}}},
{"data":{"name":"cbA"},"mark":{"type":"rect","stroke":"black","strokeWidth":5,"fill":{"gradient":"linear","x1":0,"y1":1,"x2":0,"y2":0,"stops":[{"offset":0,"color":"#00007F"},{"offset":0.14,"color":"#0000FF"},{"offset":0.36,"color":"#00FFFF"},{"offset":0.5,"color":"#7FFF7F"},{"offset":0.65,"color":"#FFFF00"},{"offset":0.85,"color":"#FF0000"},{"offset":1,"color":"#7F0000"}]}},"encoding":{"x2":{"field":"x2"},"y2":{"field":"y2"}}},
{"data":{"name":"cbAticks"},"mark":{"type":"rule","color":"black","strokeWidth":2.5},"encoding":{"x2":{"field":"x2"}}},
{"data":{"name":"txtA"},"mark":{"type":"text","fontSize":54,"align":"left","baseline":"middle","color":"black"},"encoding":{"text":{"field":"t"}}},
{"data":{"name":"txtAn"},"mark":{"type":"text","fontSize":58,"align":"left","baseline":"middle","color":"black"},"encoding":{"text":{"field":"t"}}},
{"data":{"name":"txtAsmall"},"mark":{"type":"text","fontSize":34,"align":"left","baseline":"middle","color":"black"},"encoding":{"text":{"field":"t"}}},
{"data":{"name":"txtAe"},"mark":{"type":"text","fontSize":32,"fontWeight":"bold","align":"left","baseline":"middle","color":"black"},"encoding":{"text":{"field":"t"}}},
{"data":{"name":"spireTxt"},"mark":{"type":"text","fontSize":72,"fontWeight":300,"angle":308,"align":"center","baseline":"middle","color":"black"},"encoding":{"text":{"field":"t"}}},
{"data":{"name":"tpA"},"mark":{"type":"text","fontSize":70,"align":"center","baseline":"middle","color":"white"},"encoding":{"text":{"field":"t"}}},
{"data":{"name":"one"},"mark":{"type":"point","opacity":0},"encoding":{
"x":{"datum":-60,"type":"quantitative","axis":{"orient":"bottom","values":[-76,-72,-68,-64,-60,-56,-52],"tickSize":-18,"labelPadding":46,"title":"Longitude (°)","titleFontSize":52,"titlePadding":10,"labelExpr":"replace(datum.label,'−','− ')"}},
"y":{"datum":10,"type":"quantitative","axis":{"orient":"left","values":[28,24,20,16,12,8,4,0,-4,-8],"tickSize":-20,"labelPadding":40,"labelFlush":true,"labelOffset":3,"title":"Latitude (°)","titleFontSize":54,"titlePadding":28,"labelExpr":"replace(datum.label,'−','− ')"}}}},
{"data":{"name":"one"},"mark":{"type":"point","opacity":0},"encoding":{
"x":{"datum":-60,"type":"quantitative","axis":{"orient":"top","values":[-72,-68,-64,-60,-56],"tickSize":-18,"labels":false,"title":null}},
"y":{"datum":10,"type":"quantitative","axis":{"orient":"right","values":[24,20,16,12,8,4,0,-4],"tickSize":-20,"labels":false,"title":null}}}}
]},
{"spacing":2,"vconcat":[
{"width":1185,"height":934,"view":{"fill":"#969696","stroke":"black","strokeWidth":6},
"resolve":{"axis":{"x":"independent"}},
"encoding":{"x":{"field":"x","type":"quantitative","scale":{"domain":[-25,25],"nice":false,"zero":false},"axis":null},"y":{"field":"y","type":"quantitative","scale":{"domain":[-25,575],"nice":false,"zero":false},"axis":null}},
"layer":[
{"data":{"name":"earth"},"mark":{"type":"area","color":"black","interpolate":"monotone","clip":true},"encoding":{"y2":{"datum":-25}}},
{"data":{"name":"dome"},"mark":{"type":"area","orient":"horizontal","interpolate":"monotone"},"encoding":{"x2":{"field":"x2"},"detail":{"field":"g"},"color":{"field":"r","type":"nominal","legend":null,"scale":{"domain":["1.00","1.08","1.16","1.25","1.35","1.45","1.55","0.90","0.80","0.70","0.60","0.50","0.40"],"range":["#80FF80","#A8FF50","#D8FF30","#FFFF00","#FFC000","#FF9000","#FF6000","#40FFB0","#00F4E8","#00D8FF","#00A8FF","#0078FF","#0040FF"]}}}},
{"data":{"name":"pathB"},"mark":{"type":"line","color":"black","strokeWidth":11,"interpolate":"catmull-rom"},"encoding":{}},
{"data":{"name":"barB"},"mark":{"type":"line","color":"black","strokeWidth":16,"strokeCap":"round"},"encoding":{"order":{"value":null}}},
{"data":{"name":"barB"},"mark":{"type":"line","color":"white","strokeWidth":9,"strokeCap":"round"},"encoding":{"order":{"value":null}}},
{"data":{"name":"barBmarks"},"mark":{"type":"line","color":"black","strokeWidth":15},"encoding":{"detail":{"field":"g"},"order":{"value":null}}},
{"data":{"name":"cbB"},"mark":{"type":"rect","stroke":"#333333","strokeWidth":3,"fill":{"gradient":"linear","x1":0,"y1":1,"x2":0,"y2":0,"stops":[{"offset":0,"color":"#00007F"},{"offset":0.14,"color":"#0000FF"},{"offset":0.36,"color":"#00FFFF"},{"offset":0.5,"color":"#7FFF7F"},{"offset":0.65,"color":"#FFFF00"},{"offset":0.85,"color":"#FF0000"},{"offset":1,"color":"#7F0000"}]}},"encoding":{"x2":{"field":"x2"},"y2":{"field":"y2"}}},
{"data":{"name":"cbBtick"},"mark":{"type":"rule","color":"black","strokeWidth":2.5},"encoding":{"x2":{"field":"x2"}}},
{"data":{"name":"txtB"},"mark":{"type":"text","fontSize":52,"align":"left","baseline":"middle","color":"black"},"encoding":{"text":{"field":"t"}}},
{"data":{"name":"asymTxt"},"mark":{"type":"text","fontSize":53,"align":"left","baseline":"middle","color":"black"},"encoding":{"text":{"field":"t"}}},
{"data":{"name":"kmB"},"mark":{"type":"text","fontSize":49,"fontWeight":600,"align":"left","baseline":"middle","color":"black"},"encoding":{"text":{"field":"t"}}},
{"data":{"name":"whiteB"},"mark":{"type":"text","fontSize":70,"align":"center","baseline":"middle","color":"white"},"encoding":{"text":{"field":"t"}}},
{"data":{"name":"spireB"},"mark":{"type":"text","fontSize":66,"fontWeight":300,"angle":58,"align":"center","baseline":"middle","color":"black"},"encoding":{"text":{"field":"t"}}},
{"data":{"name":"one"},"mark":{"type":"point","opacity":0},"encoding":{"x":{"datum":0,"type":"quantitative","axis":{"orient":"bottom","values":[-25,-20,-15,-10,-5,0,5,10,15,20,25],"tickSize":-18,"labelPadding":46,"title":"Distance from TP (10² km)","titleFontSize":56,"titlePadding":8,"labelExpr":"replace(datum.label,'−','− ')"}},"y":{"datum":0,"type":"quantitative"}}},
{"data":{"name":"one"},"mark":{"type":"point","opacity":0},"encoding":{"x":{"datum":0,"type":"quantitative","axis":{"orient":"top","values":[-20,-15,-10,-5,0,5,10,15,20],"tickSize":-18,"labels":false,"title":null}},"y":{"datum":0,"type":"quantitative"}}}
]},
{"width":1183,"height":691,"view":{"fill":"#969696","stroke":"black","strokeWidth":6},
"resolve":{"axis":{"x":"independent","y":"independent"}},
"encoding":{"x":{"field":"x","type":"quantitative","scale":{"domain":[0,11],"nice":false,"zero":false},"axis":null},"y":{"field":"y","type":"quantitative","scale":{"domain":[100,500],"nice":false,"zero":false},"axis":null}},
"layer":[
{"data":{"name":"abel"},"mark":{"type":"line","color":"#C8FF30","strokeWidth":10,"interpolate":"catmull-rom","clip":true},"encoding":{"order":{"value":null}}},
{"data":{"name":"truth"},"mark":{"type":"line","color":"#00007F","strokeWidth":10,"interpolate":"catmull-rom","clip":true},"encoding":{"order":{"value":null}}},
{"data":{"name":"truth"},"mark":{"type":"line","color":"#C80000","strokeWidth":10,"strokeDash":[13,14],"interpolate":"catmull-rom","clip":true},"encoding":{"order":{"value":null}}},
{"data":{"name":"asym"},"mark":{"type":"line","color":"#C80000","strokeWidth":10,"interpolate":"catmull-rom","clip":true},"encoding":{"order":{"value":null}}},
{"data":{"name":"legTruth"},"mark":{"type":"text","fontSize":57,"align":"left","baseline":"middle","color":"#00007F"},"encoding":{"text":{"field":"t"}}},
{"data":{"name":"legAbel"},"mark":{"type":"text","fontSize":57,"align":"left","baseline":"middle","color":"#C8FF30"},"encoding":{"text":{"field":"t"}}},
{"data":{"name":"legAsym"},"mark":{"type":"text","fontSize":57,"align":"left","baseline":"middle","color":"#C80000"},"encoding":{"text":{"field":"t"}}},
{"data":{"name":"cLabel"},"mark":{"type":"text","fontSize":60,"align":"center","baseline":"middle","color":"white"},"encoding":{"text":{"field":"t"}}},
{"data":{"name":"one"},"mark":{"type":"point","opacity":0},"encoding":{
"x":{"datum":5,"type":"quantitative","axis":{"orient":"bottom","values":[0,1,2,3,4,5,6,7,8,9,10,11],"tickSize":-18,"labelPadding":46,"title":"Electron density (10¹¹ m⁻³)","titleFontSize":56,"titlePadding":8}},
"y":{"datum":200,"type":"quantitative","axis":{"orient":"left","values":[100,200,300,400,500],"tickSize":-20,"labelPadding":40,"labelFlush":true,"labelOffset":3,"title":"Altitude (km)","titleFontSize":54,"titlePadding":28}}}},
{"data":{"name":"one"},"mark":{"type":"point","opacity":0},"encoding":{
"x":{"datum":5,"type":"quantitative","axis":{"orient":"top","values":[1,2,3,4,5,6,7,8,9,10],"tickSize":-18,"labels":false,"title":null}},
"y":{"datum":200,"type":"quantitative","axis":{"orient":"right","values":[200,300,400],"tickSize":-20,"labels":false,"title":null}}}}
]}
]}
],"spacing":-45}
],"spacing":0}
],"spacing":98}
],"spacing":0}
